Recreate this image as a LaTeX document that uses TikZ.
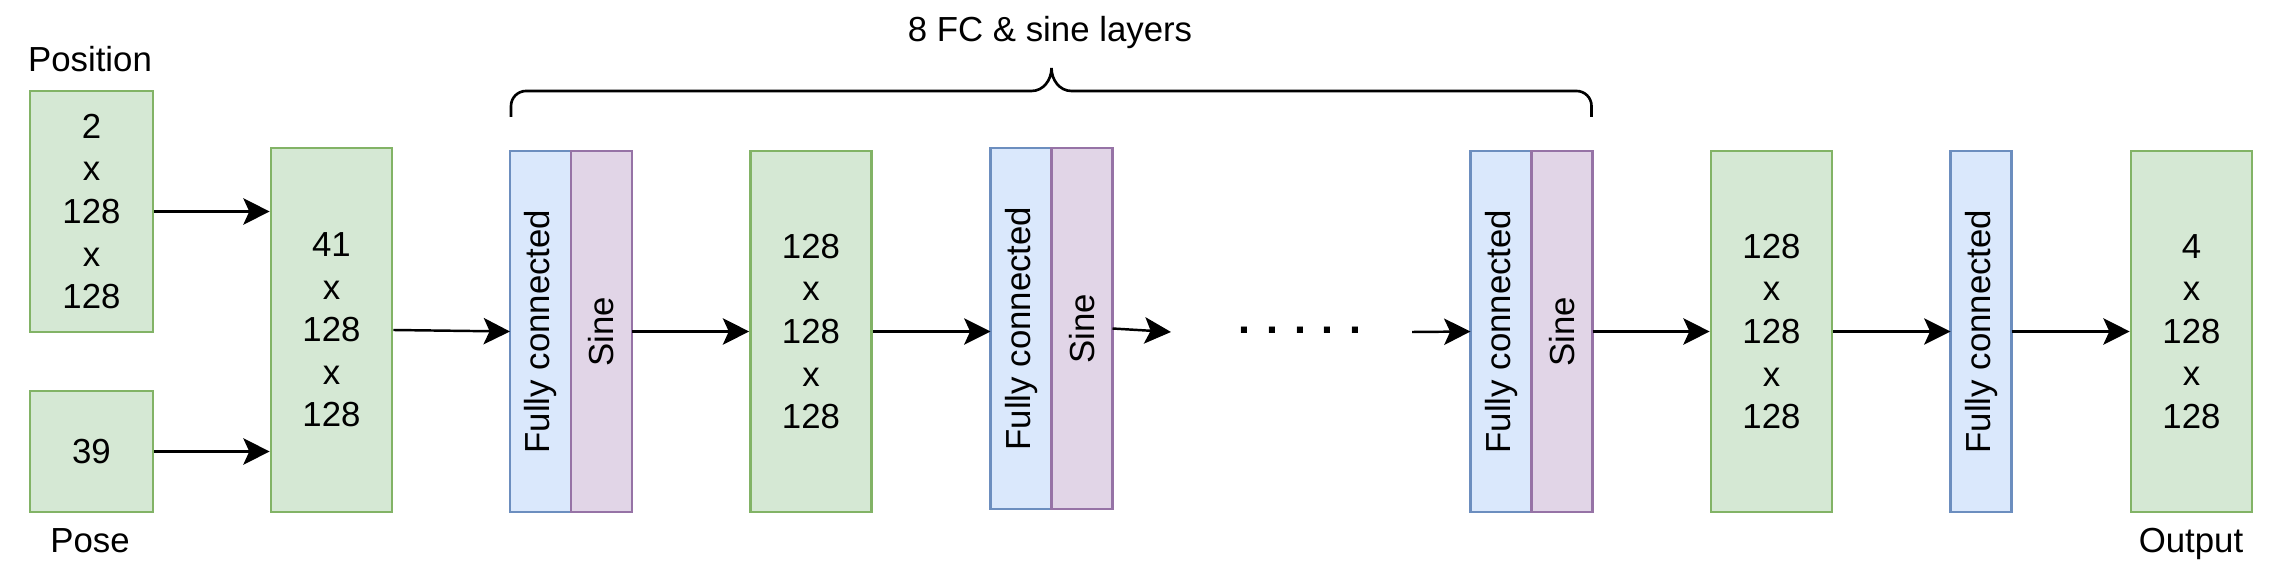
\documentclass[tikz,border=0pt]{standalone}
\usepackage{fontspec}
\usepackage{graphicx}
\setmainfont{Liberation Sans}
\usetikzlibrary{positioning, arrows.meta}

\definecolor{gruenfill}{HTML}{D5E8D4}
\definecolor{gruenrand}{HTML}{82B366}
\definecolor{blaufill}{HTML}{DAE8FC}
\definecolor{blaurand}{HTML}{6C8EBF}
\definecolor{lilafill}{HTML}{E1D5E7}
\definecolor{lilarand}{HTML}{9673A6}

\tikzset{
    tensor/.style={
        rectangle,
        draw=gruenrand,      % Gruene Kontur fuer Datenbloecke
        fill=gruenfill,
        line width=1.5pt,
        minimum width=2.42cm,
        minimum height=7.22cm,
        align=center
    },
    fcschicht/.style={
        rectangle,
        draw=blaurand,       % Blau fuer vollverbundene Schichten
        fill=blaufill,
        line width=1.5pt,
        outer sep=0pt,
        minimum width=1.22cm,
        minimum height=7.22cm
    },
    sinusschicht/.style={
        fcschicht,
        draw=lilarand,       % Lila fuer die Sinus-Aktivierung
        fill=lilafill
    },
    pfeil/.style={
        -{Stealth[length=15pt, width=15pt, inset=3.4pt]},
        line width=1.4pt
    },
    klammer/.style={
        line width=1.5pt
    }
}

\begin{document}
\begin{tikzpicture}[font=\fontsize{19.8pt}{24.2pt}\selectfont]

    \useasboundingbox (0,0) rectangle (45.6,11.4);

    % Eingaben links: Position und Pose
    \node[tensor, minimum width=2.46cm, minimum height=4.82cm] (position) at (1.83,7.17) {2\\x\\128\\x\\128};
    \node[tensor, minimum width=2.46cm, minimum height=2.42cm] (pose) at (1.83,2.37) {39};
    \node[anchor=base] (positiontext) at (1.80,9.97) {Position};
    \node[anchor=base] (posetext) at (1.80,0.34) {Pose};

    % Zusammengefuegter Eingang
    \node[tensor, minimum height=7.28cm] (box41) at (6.63,4.80) {41\\x\\128\\x\\128};

    % Erste FC- und Sinus-Schicht
    \node[fcschicht] (fc1) at (10.81,4.77) {\rotatebox{90}{Fully connected}};
    \node[sinusschicht, right=0pt of fc1] (sine1) {\rotatebox{90}{Sine}};

    \node[tensor] (t128a) at (16.22,4.77) {128\\x\\128\\x\\128};

    % Zweite FC- und Sinus-Schicht
    \node[fcschicht] (fc2) at (20.42,4.83) {\rotatebox{90}{Fully connected}};
    \node[sinusschicht, right=0pt of fc2] (sine2) {\rotatebox{90}{Sine}};

    % Ausgelassene Schichten
    \coordinate (luecke1) at (23.42,4.76);
    \node[anchor=base, font=\bfseries\fontsize{24.5pt}{28pt}\selectfont] (punkte) at (26.0,4.72) {. . . . .};
    \coordinate (luecke2) at (28.24,4.76);

    % Letzte FC- und Sinus-Schicht
    \node[fcschicht] (fc3) at (30.02,4.77) {\rotatebox{90}{Fully connected}};
    \node[sinusschicht, right=0pt of fc3] (sine3) {\rotatebox{90}{Sine}};

    \node[tensor] (t128b) at (35.43,4.77) {128\\x\\128\\x\\128};
    \node[fcschicht] (fc4) at (39.62,4.77) {\rotatebox{90}{Fully connected}};
    \node[tensor] (output) at (43.83,4.77) {4\\x\\128\\x\\128};
    \node[anchor=base] (outputtext) at (43.82,0.34) {Output};

    % Verbindungen
    \draw[pfeil] (position.east) -- (box41.west |- position.east);
    \draw[pfeil] (pose.east) -- (box41.west |- pose.east);
    \draw[pfeil] (box41.east) -- (fc1.west);
    \draw[pfeil] (sine1.east) -- (t128a.west);
    \draw[pfeil] (t128a.east) -- (fc2.west |- t128a.east);
    \draw[pfeil] (sine2.east) -- (luecke1);
    \draw[pfeil] (luecke2) -- (fc3.west);
    \draw[pfeil] (sine3.east) -- (t128b.west);
    \draw[pfeil] (t128b.east) -- (fc4.west);
    \draw[pfeil] (fc4.east) -- (output.west);

    % Geschweifte Klammer ueber den 8 Schichten
    \coordinate (kl) at (10.22,9.06);
    \coordinate (kr) at (31.83,9.06);
    \coordinate (km) at (21.03,10.04);
    \draw[klammer] (kl) -- (10.22,9.28) arc[start angle=180, end angle=90, radius=0.3]
        -- (20.63,9.58) to[out=0, in=-90] (km) to[out=-90, in=180] (21.43,9.58)
        -- (31.53,9.58) arc[start angle=90, end angle=0, radius=0.3] -- (kr);
    \node[anchor=base] (klammertext) at (21.0,10.56) {8 FC \& sine layers};

\end{tikzpicture}
\end{document}
